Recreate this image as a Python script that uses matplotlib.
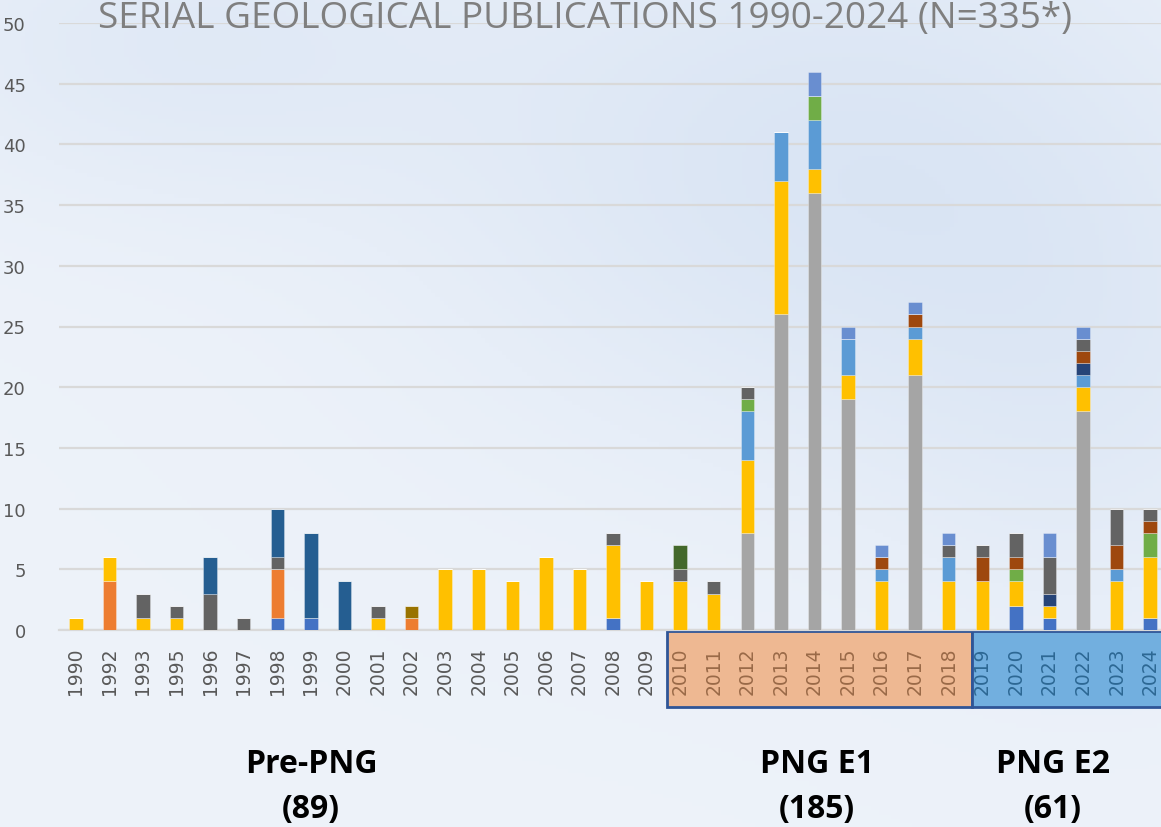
import numpy as np
import matplotlib
matplotlib.use("Agg")
import matplotlib.pyplot as plt
from matplotlib.patches import Rectangle
from matplotlib.transforms import blended_transform_factory

years = ["1990", "1992", "1993", "1995", "1996", "1997", "1998", "1999", "2000", "2001",
         "2002", "2003", "2004", "2005", "2006", "2007", "2008", "2009", "2010", "2011",
         "2012", "2013", "2014", "2015", "2016", "2017", "2018", "2019", "2020", "2021",
         "2022", "2023", "2024"]

#                1990 92 93 95 96 97 98 99 00 01 02 03 04 05 06 07 08 09 10 11 12 13 14 15 16 17 18 19 20 21 22 23 24
s_blue       = [0, 0, 0, 0, 0, 0, 1, 1, 0, 0, 0, 0, 0, 0, 0, 0, 1, 0, 0, 0, 0, 0, 0, 0, 0, 0, 0, 0, 2, 1, 0, 0, 1]
s_orange     = [0, 4, 0, 0, 0, 0, 4, 0, 0, 0, 1, 0, 0, 0, 0, 0, 0, 0, 0, 0, 0, 0, 0, 0, 0, 0, 0, 0, 0, 0, 0, 0, 0]
s_gray       = [0, 0, 0, 0, 0, 0, 0, 0, 0, 0, 0, 0, 0, 0, 0, 0, 0, 0, 0, 0, 8, 26, 36, 19, 0, 21, 0, 0, 0, 0, 18, 0, 0]
s_gold       = [1, 2, 1, 1, 0, 0, 0, 0, 0, 1, 0, 5, 5, 4, 6, 5, 6, 4, 4, 3, 6, 11, 2, 2, 4, 3, 4, 4, 2, 1, 2, 4, 5]
s_lightblue  = [0, 0, 0, 0, 0, 0, 0, 0, 0, 0, 0, 0, 0, 0, 0, 0, 0, 0, 0, 0, 4, 4, 4, 3, 1, 1, 2, 0, 0, 0, 1, 1, 0]
s_green      = [0, 0, 0, 0, 0, 0, 0, 0, 0, 0, 0, 0, 0, 0, 0, 0, 0, 0, 0, 0, 1, 0, 2, 0, 0, 0, 0, 0, 1, 0, 0, 0, 2]
s_navy       = [0, 0, 0, 0, 0, 0, 0, 0, 0, 0, 0, 0, 0, 0, 0, 0, 0, 0, 0, 0, 0, 0, 0, 0, 0, 0, 0, 0, 0, 1, 1, 0, 0]
s_brown      = [0, 0, 0, 0, 0, 0, 0, 0, 0, 0, 0, 0, 0, 0, 0, 0, 0, 0, 0, 0, 0, 0, 0, 0, 1, 1, 0, 2, 1, 0, 1, 2, 1]
s_darkgray   = [0, 0, 2, 1, 3, 1, 1, 0, 0, 1, 0, 0, 0, 0, 0, 0, 1, 0, 1, 1, 1, 0, 0, 0, 0, 0, 1, 1, 2, 3, 1, 3, 1]
s_darkblue   = [0, 0, 0, 0, 3, 0, 4, 7, 4, 0, 0, 0, 0, 0, 0, 0, 0, 0, 0, 0, 0, 0, 0, 0, 0, 0, 0, 0, 0, 0, 0, 0, 0]
s_olive      = [0, 0, 0, 0, 0, 0, 0, 0, 0, 0, 1, 0, 0, 0, 0, 0, 0, 0, 0, 0, 0, 0, 0, 0, 0, 0, 0, 0, 0, 0, 0, 0, 0]
s_darkgreen  = [0, 0, 0, 0, 0, 0, 0, 0, 0, 0, 0, 0, 0, 0, 0, 0, 0, 0, 2, 0, 0, 0, 0, 0, 0, 0, 0, 0, 0, 0, 0, 0, 0]
s_periwinkle = [0, 0, 0, 0, 0, 0, 0, 0, 0, 0, 0, 0, 0, 0, 0, 0, 0, 0, 0, 0, 0, 0, 2, 1, 1, 1, 1, 0, 0, 2, 1, 0, 0]

series = [s_blue, s_orange, s_gray, s_gold, s_lightblue, s_green, s_navy, s_brown,
          s_darkgray, s_darkblue, s_olive, s_darkgreen, s_periwinkle]
colors = ["#4472C4", "#ED7D31", "#A5A5A5", "#FFC000", "#5B9BD5", "#70AD47", "#264478",
          "#9E480E", "#636363", "#255E91", "#997300", "#43682B", "#698ED0"]

title = "SERIAL GEOLOGICAL PUBLICATIONS 1990-2024 (N=335*)"
periods = [("Pre-PNG\n(89)", 311), ("PNG E1\n(185)", 817), ("PNG E2\n(61)", 1053)]

W, H = 1161, 828
fig = plt.figure(figsize=(W / 100, H / 100), dpi=100)

# background wash
bg = fig.add_axes([0, 0, 1, 1], zorder=-10)
yy, xx = np.mgrid[0:1:200j, 0:1:280j]
base = np.array([0.93, 0.95, 0.98])
dark = np.array([0.80, 0.86, 0.94])
w = (0.55 * np.exp(-(((xx - 0.72) / 0.35) ** 2 + ((yy - 0.2) / 0.35) ** 2))
     + 0.35 * np.exp(-(((xx - 0.15) / 0.25) ** 2 + ((yy - 0.05) / 0.2) ** 2))
     + 0.25 * np.exp(-(((xx - 0.95) / 0.2) ** 2 + ((yy - 0.5) / 0.3) ** 2)))
w = np.clip(w, 0, 1)[..., None]
img = base * (1 - w) + dark * w
bg.imshow(img, extent=[0, 1, 0, 1], aspect="auto", origin="upper")
bg.axis("off")

left = 59 / W
right = 1167 / W
bottom = (H - 631) / H
top = (H - 24) / H
ax = fig.add_axes([left, bottom, right - left, top - bottom])
ax.patch.set_alpha(0)

x = np.arange(len(years))
bottoms = np.zeros(len(years))
for vals, c in zip(series, colors):
    v = np.array(vals, dtype=float)
    ax.bar(x, v, width=0.4, bottom=bottoms, color=c, edgecolor=(1, 1, 1, 0.35),
           linewidth=0.6, zorder=3)
    bottoms += v

ax.set_xlim(-0.5, len(years) - 0.5)
ax.set_ylim(0, 50)
ax.set_yticks(np.arange(0, 51, 5))
ax.yaxis.grid(True, color="#D9D9D9", linewidth=1.6, zorder=0)
ax.set_axisbelow(True)
for s in ["top", "right", "left"]:
    ax.spines[s].set_visible(False)
ax.spines["bottom"].set_color("#D9D9D9")
ax.spines["bottom"].set_linewidth(1.6)
ax.tick_params(axis="both", length=0, colors="#595959", labelsize=13)
ax.tick_params(axis="y", pad=24)
ax.set_xticks(x)
ax.set_xticklabels(years, rotation=90, fontsize=13.5)
ax.tick_params(axis="x", pad=12)
for i, lab in enumerate(ax.get_xticklabels()):
    if 18 <= i <= 26:
        lab.set_color("#9A6A48")
        lab.set_zorder(6)
    elif i >= 27:
        lab.set_color("#2D6894")
        lab.set_zorder(6)
    else:
        lab.set_color("#595959")
for lab in ax.get_yticklabels():
    lab.set_horizontalalignment("right")

tr = blended_transform_factory(ax.transData, fig.transFigure)
y0 = (H - 708) / H
hh = (708 - 632) / H
ax.add_patch(Rectangle((17.6, y0), 26.7 - 17.6, hh, transform=tr, facecolor="#EEB892",
                       edgecolor="#2F5597", linewidth=2, clip_on=False, zorder=-1))
ax.add_patch(Rectangle((26.7, y0), 33.5 - 26.7, hh, transform=tr, facecolor="#72AFDF",
                       edgecolor="#2F5597", linewidth=2, clip_on=False, zorder=-1))

fig.text(585 / W, 1 - 19 / H, title, ha="center", va="center", fontsize=26.6,
         color="#7F7F7F", family="Open Sans")

for txt, px in periods:
    fig.text(px / W, 1 - 787 / H, txt, ha="center", va="center", fontsize=23,
             fontweight="bold", color="black", family="Open Sans", linespacing=1.45)

fig.savefig("out.png", dpi=100)
